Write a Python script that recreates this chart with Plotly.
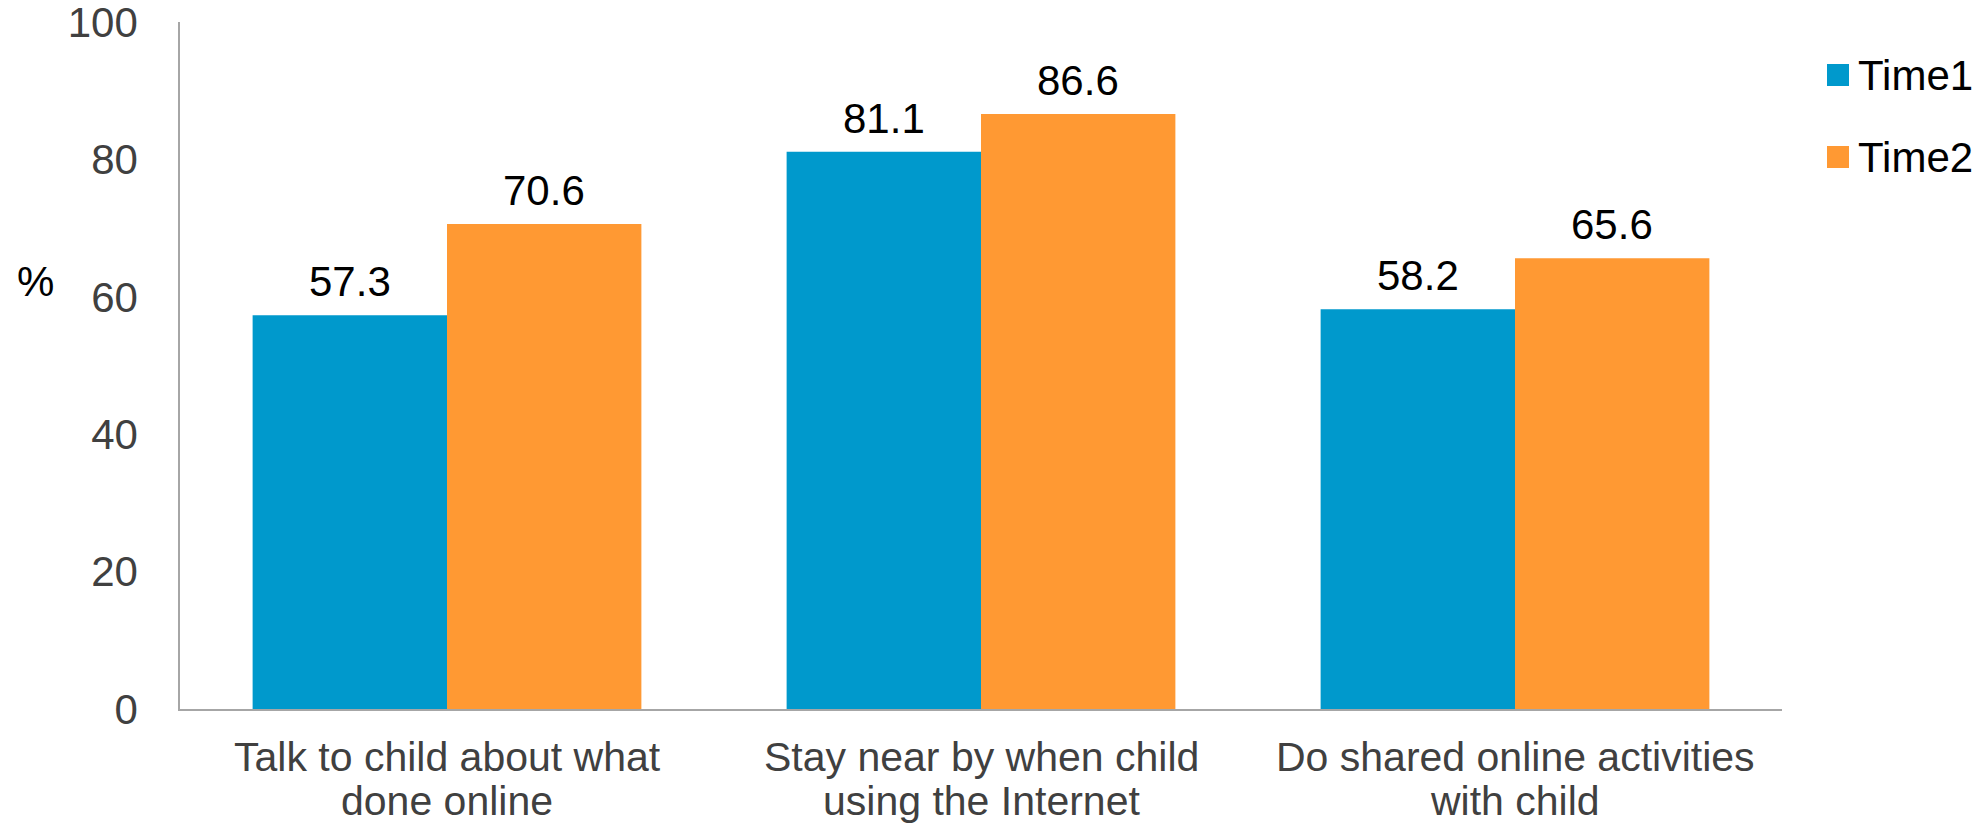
import plotly.graph_objects as go

# Categories, the wrapped text lines drawn beneath each, and series values (%)
categories = [
    "Talk to child about what done online",
    "Stay near by when child using the Internet",
    "Do shared online activities with child",
]
category_lines = [
    ["Talk to child about what", "done online"],
    ["Stay near by when child", "using the Internet"],
    ["Do shared online activities", "with child"],
]
time1 = [57.3, 81.1, 58.2]
time2 = [70.6, 86.6, 65.6]
series_names = ["Time1", "Time2"]
y_ticks = [0, 20, 40, 60, 80, 100]

BLUE = "#0099CC"
ORANGE = "#FF9933"
FONT = "Arial, Liberation Sans, sans-serif"

W, H = 1977, 829
M_L, M_R, M_T, M_B = 180, 195, 22, 120
PLOT_W = W - M_L - M_R
PLOT_H = H - M_T - M_B
BARGAP = 0.272


def px_x(px):
    return (px - M_L) / PLOT_W


def px_y(px):
    return 1 - (px - M_T) / PLOT_H


fig = go.Figure()

series = [(series_names[0], time1, BLUE), (series_names[1], time2, ORANGE)]
for name, vals, color in series:
    fig.add_trace(go.Bar(
        x=categories, y=vals, name=name,
        marker=dict(color=color, line=dict(width=0)),
        showlegend=False,
    ))

# Value labels above each bar (bar centre offset within its category group)
cat_px = PLOT_W / len(categories)
bar_px = (1 - BARGAP) * cat_px / len(series)
for j, (name, vals, color) in enumerate(series):
    shift = (j - (len(series) - 1) / 2) * bar_px
    for cat, v in zip(categories, vals):
        fig.add_annotation(
            x=cat, y=v, xref="x", yref="y", text=f"{v:.1f}",
            showarrow=False, xanchor="center", yanchor="bottom",
            xshift=shift, yshift=8,
            font=dict(family=FONT, size=42, color="#000000"),
        )

# Category labels, two lines each, under the axis
line_centres = [757, 801]
for cat, lines in zip(categories, category_lines):
    for line, yc in zip(lines, line_centres):
        fig.add_annotation(
            x=cat, y=px_y(yc), xref="x", yref="paper", text=line,
            showarrow=False, xanchor="center", yanchor="middle",
            font=dict(family=FONT, size=41, color="#404040"),
        )

# Legend drawn as large square swatches with labels
for i, (name, vals, color) in enumerate(series):
    top = 64 + i * 82
    fig.add_shape(
        type="rect", xref="paper", yref="paper",
        x0=px_x(1827), x1=px_x(1849), y0=px_y(top + 22), y1=px_y(top),
        fillcolor=color, line=dict(width=0),
    )
    fig.add_annotation(
        text=name, xref="paper", yref="paper",
        x=px_x(1856), y=px_y(top + 11),
        showarrow=False, xanchor="left", yanchor="middle",
        font=dict(family=FONT, size=42, color="#000000"),
    )

fig.add_annotation(
    text="%", xref="paper", yref="y", x=px_x(35), y=62.2,
    showarrow=False, xanchor="center", yanchor="middle",
    font=dict(family=FONT, size=42, color="#000000"),
)

fig.update_layout(
    width=W, height=H,
    margin=dict(l=M_L, r=M_R, t=M_T, b=M_B),
    paper_bgcolor="white", plot_bgcolor="white",
    barmode="group", bargap=BARGAP, bargroupgap=0,
    showlegend=False,
    xaxis=dict(
        showline=True, linecolor="#A6A6A6", linewidth=1.5,
        showgrid=False, ticks="", showticklabels=False,
        automargin=False,
    ),
    yaxis=dict(
        range=[0, 100], tickvals=y_ticks,
        showline=True, linecolor="#A6A6A6", linewidth=1.5,
        showgrid=False, zeroline=False, ticks="",
        ticklabelstandoff=32, automargin=False,
        ticklabeloverflow="allow",
        tickfont=dict(family=FONT, size=42, color="#404040"),
    ),
)

fig.write_html("out.html")
